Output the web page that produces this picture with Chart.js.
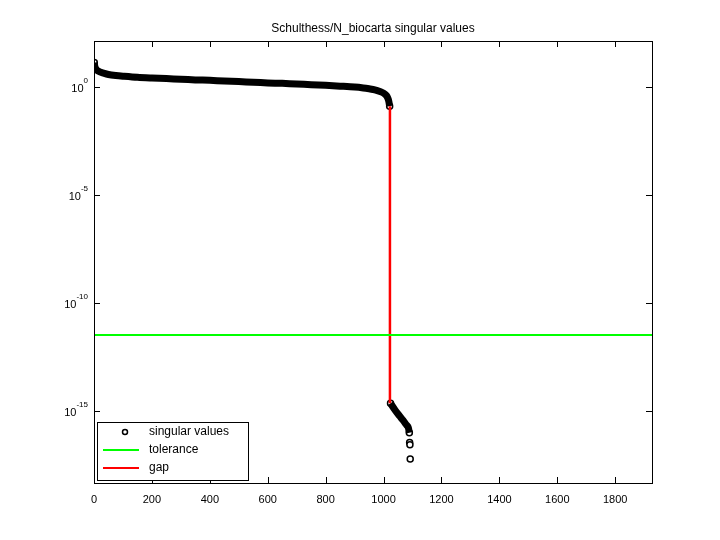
<!DOCTYPE html>
<html><head><script src="https://cdn.jsdelivr.net/npm/chart.js@4"></script>
<style>body{margin:0;background:#fff}#w{width:720px;height:540px}</style></head>
<body><div id="w"><canvas id="c"></canvas></div>
<script>
const bandIdx = [1,3,6,10,20,30,50,75,100,150,200,250,300,350,400,450,500,550,600,650,700,750,800,850,900,930,950,970,990,1000,1010,1015,1018,1021];
const bandVal = [13.5,8.9,7.1,6.0,5.0,4.5,3.8,3.4,3.16,2.8,2.6,2.45,2.3,2.14,2.04,1.9,1.78,1.66,1.55,1.48,1.38,1.29,1.2,1.1,1.0,0.91,0.83,0.74,0.6,0.52,0.4,0.3,0.22,0.13];
const tailIdx = [1024,1040,1055,1067,1078,1085,1089];
const tailVal = [2.3e-15,1.1e-15,6e-16,3.8e-16,2.4e-16,1.8e-16,1e-16];
const looseIdx = [1,1021,1024,1089,1090,1091,1092];
const looseVal = [13.5,0.13,2.3e-15,1e-16,3.5e-17,2.8e-17,6e-18];
const tolerance = 3.3e-12;
const gapIdx = 1022;
const gapTop = 0.13, gapBottom = 2.3e-15;
const xTicks = [0,200,400,600,800,1000,1200,1400,1600,1800];
const yTicks = [1e0,1e-5,1e-10,1e-15];
const yExp = ['0','-5','-10','-15'];
const xMax = 1927;
const title = 'Schulthess/N_biocarta singular values';

const pts = (a,b)=>a.map((x,i)=>({x:x,y:b[i]}));
const frame = {
  id:'frame',
  afterDraw(ch){
    const c=ch.ctx,a=ch.chartArea,xs=ch.scales.x,ys=ch.scales.y;
    c.save();c.strokeStyle='#000';c.lineWidth=1;
    c.strokeRect(a.left+0.5,a.top+0.5,a.right-a.left,a.bottom-a.top);
    c.beginPath();
    xTicks.forEach(t=>{const p=Math.round(xs.getPixelForValue(t))+0.5;c.moveTo(p,a.bottom);c.lineTo(p,a.bottom-6);c.moveTo(p,a.top);c.lineTo(p,a.top+6);});
    yTicks.forEach(t=>{const p=Math.round(ys.getPixelForValue(t))+0.5;c.moveTo(a.left,p);c.lineTo(a.left+6,p);c.moveTo(a.right,p);c.lineTo(a.right-6,p);});
    c.stroke();
    c.fillStyle='#000';c.textBaseline='middle';
    // y labels with superscripts
    yTicks.forEach((t,i)=>{const p=ys.getPixelForValue(t);
      c.font='8px "Liberation Sans"';c.textAlign='left';
      const ew=c.measureText(yExp[i]).width;
      c.fillText(yExp[i],88-ew,p-6);
      c.font='11px "Liberation Sans"';c.textAlign='right';
      c.fillText('10',88-ew,p+2);});
    c.font='12px "Liberation Sans"';c.textAlign='center';
    c.fillText(title,(a.left+a.right)/2,29);
    // legend
    const lx=97,ly=422,lw=151,lh=58;
    c.fillStyle='#fff';c.fillRect(lx,ly,lw,lh);c.strokeRect(lx+0.5,ly+0.5,lw,lh);
    c.textAlign='left';c.fillStyle='#000';c.font='12px "Liberation Sans"';
    c.beginPath();c.arc(125,432,2.5,0,Math.PI*2);c.lineWidth=1.5;c.stroke();
    c.fillText('singular values',149,432);
    c.lineWidth=2;c.strokeStyle='#00ff00';c.beginPath();c.moveTo(103,450);c.lineTo(139,450);c.stroke();
    c.fillText('tolerance',149,450);
    c.strokeStyle='#ff0000';c.beginPath();c.moveTo(103,468);c.lineTo(139,468);c.stroke();
    c.fillText('gap',149,468);
    c.restore();
  }
};
new Chart(document.getElementById('c'),{
  type:'scatter',
  data:{datasets:[
    {data:[{x:0,y:tolerance},{x:xMax,y:tolerance}],showLine:true,borderColor:'#00ff00',borderWidth:2,pointRadius:0},
    {data:[{x:gapIdx,y:gapTop},{x:gapIdx,y:gapBottom}],showLine:true,borderColor:'#ff0000',borderWidth:2.5,pointRadius:0},
    {data:pts(bandIdx,bandVal),showLine:true,borderColor:'#000',borderWidth:7,pointRadius:0,tension:0.3},
    {data:pts(tailIdx,tailVal),showLine:true,borderColor:'#000',borderWidth:7,pointRadius:0,tension:0.3},
    {data:pts(looseIdx,looseVal),showLine:false,borderColor:'#000',backgroundColor:'#fff',borderWidth:1.5,pointRadius:3}
  ]},
  options:{
    responsive:true,maintainAspectRatio:false,animation:false,
    layout:{padding:{top:41,right:68,left:0,bottom:0}},
    plugins:{legend:{display:false},tooltip:{enabled:false}},
    scales:{
      x:{type:'linear',min:0,max:xMax,grid:{display:false},border:{display:false},
        afterFit(s){s.height=57;},
        afterBuildTicks(s){s.ticks=xTicks.map(v=>({value:v}));},
        ticks:{color:'#000',font:{family:'Liberation Sans',size:11},padding:2,maxRotation:0,callback:(v)=>String(v)}},
      y:{type:'logarithmic',min:4.7e-19,max:135,grid:{display:false},border:{display:false},
        afterFit(s){s.width=94;},
        afterBuildTicks(s){s.ticks=yTicks.map(v=>({value:v}));},
        ticks:{display:false}}
    }
  },
  plugins:[frame]
});
</script></body></html>
